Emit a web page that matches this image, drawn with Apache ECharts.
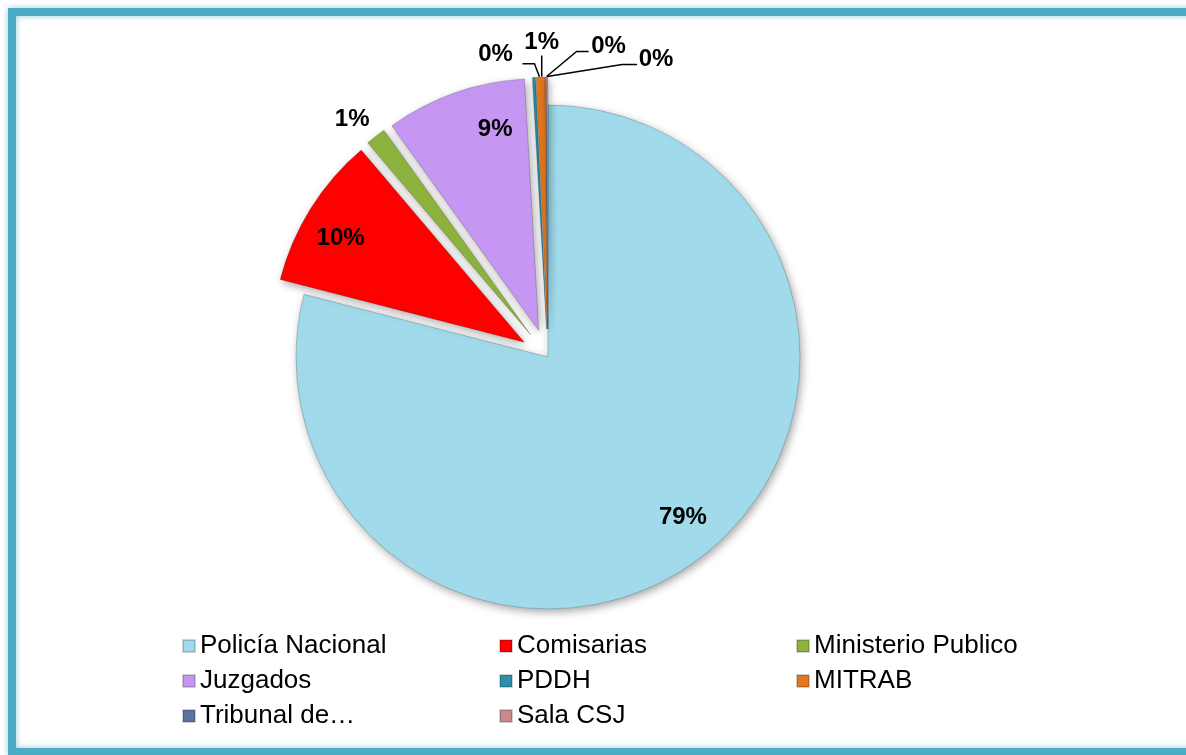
<!DOCTYPE html>
<html>
<head>
<meta charset="utf-8">
<title>Denuncias por institución</title>
<script src="https://cdn.jsdelivr.net/npm/echarts@6/dist/echarts.min.js"></script>
<style>
    html, body {margin: 0; padding: 0; background: #fff;}
    #container_p {width: 1186px; height: 755px;}
</style>
</head>
<body>
<div id="container_p"></div>
<script>
// datos (porcentajes)
var names = ["Policía Nacional", "Comisarias", "Ministerio Publico", "Juzgados", "PDDH", "MITRAB", "Tribunal de…", "Sala CSJ"];
var values = [79.0, 9.8, 1.3, 9.0, 0.2, 0.55, 0.05, 0.1];
var colors = ["#A0DAEB", "#FF0000", "#8DB33E", "#C597F2", "#2E8FA8", "#E3781E", "#5A74A0", "#C98A8C"];

// columnas de la leyenda
var legendCols = [
    ["Policía Nacional", "Juzgados", "Tribunal de…"],
    ["Comisarias", "PDDH", "Sala CSJ"],
    ["Ministerio Publico", "MITRAB"]
];
var legendLeft = [177, 494, 791];

// etiquetas pequeñas: desplazamiento respecto a la punta del sector (como en Excel)
var smallLabelShift = {
    "Ministerio Publico": {dx: -15, dy: -10, line: null},
    "PDDH": {dx: -44, dy: -22, line: [[0, 0], [-5, -13], [-17, -13]]},
    "MITRAB": {dx: 0, dy: -34, line: [[0, 0], [0, -21]]},
    "Tribunal de…": {dx: 62, dy: -30, line: [[0, 0], [30, -25], [42, -25]]},
    "Sala CSJ": {dx: 109, dy: -17, line: [[0, 0], [75, -12], [90, -12]]}
};
// ajuste fino de las etiquetas interiores
var innerLabelShift = {
    "Policía Nacional": [5, -7],
    "Comisarias": [-4, 9],
    "Juzgados": [27, -1]
};

var fontName = "'Liberation Sans', Arial, sans-serif";

function pctLabel(p) {
    return Math.round(p.percent) + "%";
}

function smallLabelLayout(p) {
    var name = names[p.dataIndex];
    var s = smallLabelShift[name];
    if (!s) return {};
    // punta superior del sector
    var tx = p.rect.x + p.rect.width / 2;
    var ty = p.rect.y;
    if (name === "Ministerio Publico") {
        tx = p.rect.x;
    }
    var cx = p.labelRect.x + p.labelRect.width / 2;
    var cy = p.labelRect.y + p.labelRect.height / 2;
    var res = {
        dx: tx + s.dx - cx,
        dy: ty + s.dy - cy
    };
    if (s.line) {
        var pts = [];
        for (var k = 0; k < s.line.length; k++) {
            pts.push([tx + s.line[k][0], ty + s.line[k][1]]);
        }
        res.labelLinePoints = pts;
    }
    return res;
}

function innerLabelLayout(p) {
    var s = innerLabelShift[names[p.dataIndex]];
    if (!s) return {};
    return {dx: s[0], dy: s[1]};
}

function buildPie() {
    var total = 0;
    for (var i = 0; i < values.length; i++) total += values[i];

    var mainData = [];
    var ringData = [];
    for (var i = 0; i < names.length; i++) {
        var big = values[i] / total * 100 >= 5;
        var hasLine = !big && smallLabelShift[names[i]] && smallLabelShift[names[i]].line !== null;
        mainData.push({
            name: names[i],
            value: values[i],
            selected: i > 0,
            itemStyle: {color: colors[i]},
            label: {show: !big},
            labelLine: {show: !!hasLine}
        });
        ringData.push({
            name: names[i],
            value: values[i],
            selected: i > 0,
            label: {show: big}
        });
    }

    var legends = [];
    for (var c = 0; c < legendCols.length; c++) {
        legends.push({
            data: legendCols[c],
            orient: 'vertical',
            left: legendLeft[c],
            top: 626,
            icon: 'rect',
            itemWidth: 12,
            itemHeight: 12,
            itemGap: 5,
            selectedMode: false,
            textStyle: {fontFamily: fontName, fontSize: 26, color: '#000', lineHeight: 30}
        });
    }

    var Poption = {
        animation: false,
        graphic: [{
            type: 'rect',
            shape: {x: 12, y: 12, width: 1200, height: 740},
            style: {
                fill: 'none',
                stroke: '#4BACC6',
                lineWidth: 8,
                shadowBlur: 6,
                shadowColor: 'rgba(75,172,198,0.6)'
            },
            z: 0
        }],
        legend: legends,
        series: [
            {
                name: 'Institución',
                type: 'pie',
                center: [548, 357],
                radius: 252,
                startAngle: 90,
                clockwise: true,
                selectedMode: 'multiple',
                selectedOffset: 28,
                avoidLabelOverlap: false,
                data: mainData,
                itemStyle: {
                    borderColor: 'rgba(0,0,0,0.18)',
                    borderWidth: 1,
                    shadowBlur: 8,
                    shadowColor: 'rgba(0,0,0,0.35)',
                    shadowOffsetX: 2,
                    shadowOffsetY: 3
                },
                label: {
                    position: 'outside',
                    formatter: pctLabel,
                    fontFamily: fontName,
                    fontWeight: 'bold',
                    fontSize: 24,
                    color: '#000'
                },
                labelLine: {
                    length: 12,
                    length2: 18,
                    lineStyle: {color: '#000', width: 1.5}
                },
                labelLayout: smallLabelLayout,
                emphasis: {disabled: true}
            },
            {
                // anillo transparente solo para las etiquetas interiores
                name: 'etiquetas',
                type: 'pie',
                center: [548, 357],
                radius: [166, 252],
                startAngle: 90,
                clockwise: true,
                selectedMode: 'multiple',
                selectedOffset: 28,
                silent: true,
                data: ringData,
                itemStyle: {color: 'rgba(0,0,0,0)'},
                label: {
                    position: 'inside',
                    formatter: pctLabel,
                    fontFamily: fontName,
                    fontWeight: 'bold',
                    fontSize: 24,
                    color: '#000'
                },
                labelLine: {show: false},
                labelLayout: innerLabelLayout,
                emphasis: {disabled: true}
            }
        ]
    };

    var myPie = echarts.init(document.getElementById("container_p"));
    myPie.setOption(Poption, true);
}

buildPie();
</script>
</body>
</html>
